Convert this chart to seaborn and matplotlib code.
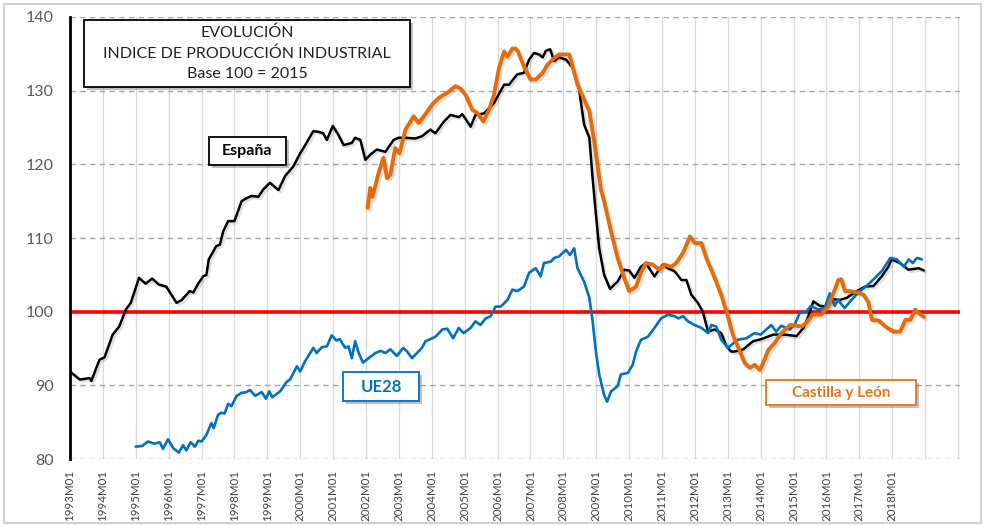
import matplotlib
matplotlib.use('Agg')
import matplotlib.pyplot as plt
import matplotlib.patheffects as pe
from matplotlib.patches import Rectangle
from matplotlib.ticker import MultipleLocator
import seaborn as sns
import pandas as pd

# Datos (fecha en anos decimales, indice base 2015=100)
esp_t = [1993.0, 1993.3, 1993.6, 1993.65, 1993.9, 1994.05, 1994.3, 1994.5, 1994.7, 1994.85,
         1995.1, 1995.3, 1995.5, 1995.7, 1995.93, 1996.24, 1996.4, 1996.64, 1996.75, 1996.9,
         1997.05, 1997.15, 1997.22, 1997.45, 1997.56, 1997.66, 1997.81, 1998.0, 1998.22, 1998.37,
         1998.52, 1998.73, 1998.88, 1999.08, 1999.34, 1999.54, 1999.79, 2000.0, 2000.1, 2000.4,
         2000.56, 2000.7, 2000.81, 2000.99, 2001.16, 2001.32, 2001.57, 2001.67, 2001.83, 2001.98,
         2002.13, 2002.33, 2002.59, 2002.84, 2002.99, 2003.2, 2003.5, 2003.7, 2003.96, 2004.11,
         2004.37, 2004.57, 2004.82, 2004.93, 2005.18, 2005.33, 2005.59, 2005.89, 2006.2, 2006.35,
         2006.6, 2006.8, 2006.96, 2007.11, 2007.26, 2007.37, 2007.47, 2007.6, 2007.72, 2007.87,
         2008.08, 2008.28, 2008.48, 2008.63, 2008.79, 2008.89, 2008.99, 2009.09, 2009.24, 2009.42,
         2009.65, 2009.85, 2010.0, 2010.16, 2010.36, 2010.51, 2010.77, 2011.02, 2011.18, 2011.38,
         2011.59, 2011.74, 2011.89, 2012.09, 2012.24, 2012.4, 2012.6, 2012.8, 2012.96, 2013.1,
         2013.21, 2013.47, 2013.77, 2014.03, 2014.38, 2014.73, 2015.09, 2015.3, 2015.45, 2015.6,
         2015.8, 2016.0, 2016.21, 2016.41, 2016.62, 2016.92, 2017.17, 2017.43, 2017.68, 2017.88,
         2017.98, 2018.24, 2018.49, 2018.8, 2018.96]
esp_v = [91.9, 90.8, 91.0, 90.6, 93.5, 93.8, 96.9, 98.0, 100.3, 101.2,
         104.6, 103.8, 104.5, 103.7, 103.4, 101.2, 101.6, 102.8, 102.6, 103.8,
         104.8, 105.0, 107.1, 108.9, 109.1, 110.9, 112.3, 112.3, 115.0, 115.4,
         115.7, 115.6, 116.6, 117.5, 116.5, 118.4, 119.7, 121.5, 122.2, 124.5,
         124.4, 124.2, 123.3, 125.2, 124.0, 122.6, 122.9, 123.6, 123.3, 120.6,
         121.3, 122.0, 121.7, 123.3, 123.6, 123.6, 123.5, 123.8, 124.7, 124.2,
         125.8, 126.7, 126.4, 126.8, 125.1, 126.7, 126.9, 128.3, 130.8, 130.8,
         132.2, 132.4, 134.2, 135.1, 134.9, 134.5, 135.4, 135.6, 134.0, 134.5,
         134.2, 133.1, 130.1, 125.4, 123.6, 118.1, 113.2, 108.6, 105.0, 103.1,
         104.1, 105.7, 105.6, 104.6, 106.1, 106.6, 104.8, 106.4, 105.9, 105.5,
         104.3, 104.3, 102.3, 101.2, 100.0, 97.3, 97.6, 97.1, 95.3, 94.6,
         94.6, 94.9, 96.0, 96.3, 96.9, 96.9, 96.7, 97.8, 99.4, 101.4,
         100.8, 100.7, 101.7, 101.6, 101.9, 102.8, 103.4, 103.5, 104.8, 106.1,
         107.1, 106.6, 105.7, 105.9, 105.6]

ue_t = [1995.0, 1995.2, 1995.37, 1995.57, 1995.73, 1995.83, 1995.98, 1996.14, 1996.31, 1996.44,
        1996.54, 1996.67, 1996.8, 1996.9, 1997.0, 1997.15, 1997.3, 1997.37, 1997.5, 1997.6,
        1997.7, 1997.81, 1997.91, 1998.07, 1998.22, 1998.37, 1998.47, 1998.63, 1998.83, 1998.96,
        1999.06, 1999.15, 1999.39, 1999.59, 1999.69, 1999.9, 2000.0, 2000.15, 2000.4, 2000.5,
        2000.66, 2000.81, 2000.96, 2001.1, 2001.2, 2001.37, 2001.47, 2001.57, 2001.67, 2001.78,
        2001.91, 2002.08, 2002.29, 2002.44, 2002.59, 2002.74, 2002.94, 2003.13, 2003.25, 2003.4,
        2003.55, 2003.7, 2003.81, 2003.96, 2004.11, 2004.32, 2004.47, 2004.65, 2004.82, 2004.97,
        2005.18, 2005.33, 2005.48, 2005.64, 2005.79, 2005.94, 2006.1, 2006.3, 2006.45, 2006.6,
        2006.8, 2006.96, 2007.16, 2007.31, 2007.41, 2007.62, 2007.72, 2007.87, 2008.08, 2008.2,
        2008.33, 2008.43, 2008.63, 2008.79, 2008.89, 2008.99, 2009.09, 2009.24, 2009.33, 2009.45,
        2009.65, 2009.75, 2009.96, 2010.11, 2010.21, 2010.36, 2010.57, 2010.77, 2010.97, 2011.18,
        2011.38, 2011.5, 2011.64, 2011.79, 2011.99, 2012.2, 2012.4, 2012.5, 2012.65, 2012.8,
        2013.0, 2013.3, 2013.56, 2013.81, 2014.0, 2014.32, 2014.47, 2014.62, 2014.88, 2015.03,
        2015.18, 2015.38, 2015.53, 2015.74, 2015.94, 2016.1, 2016.25, 2016.35, 2016.55, 2016.76,
        2017.01, 2017.22, 2017.43, 2017.68, 2017.94, 2018.14, 2018.35, 2018.5, 2018.62, 2018.75,
        2018.9]
ue_v = [81.7, 81.8, 82.4, 82.1, 82.3, 81.4, 82.7, 81.5, 80.9, 81.9,
        81.2, 82.3, 81.7, 82.5, 82.4, 83.3, 84.9, 84.2, 86.0, 86.3,
        86.2, 87.5, 87.2, 88.6, 89.0, 89.1, 89.4, 88.6, 89.1, 88.2,
        89.2, 88.4, 89.2, 90.5, 90.8, 92.6, 91.9, 93.3, 95.1, 94.4,
        95.2, 95.3, 96.8, 96.1, 96.3, 95.1, 95.3, 93.7, 96.0, 94.4,
        93.1, 93.7, 94.4, 94.7, 94.4, 94.9, 94.0, 95.1, 94.6, 93.7,
        94.4, 95.1, 96.0, 96.3, 96.6, 97.6, 97.7, 96.4, 97.8, 97.1,
        97.8, 98.7, 98.2, 99.1, 99.4, 100.7, 100.7, 101.6, 103.0, 102.8,
        103.4, 105.3, 105.9, 104.8, 106.6, 106.8, 107.3, 107.5, 108.4, 107.7,
        108.6, 105.9, 104.1, 101.9, 98.7, 94.6, 91.5, 88.7, 87.8, 89.2,
        89.9, 91.5, 91.7, 92.8, 94.6, 96.2, 96.6, 97.8, 99.1, 99.6,
        99.4, 99.1, 99.4, 98.7, 98.2, 97.8, 97.1, 98.2, 98.0, 96.2,
        95.1, 96.2, 96.4, 97.1, 96.9, 98.2, 97.3, 98.1, 97.6, 98.2,
        99.8, 100.0, 100.8, 100.3, 100.5, 102.5, 100.8, 101.6, 100.5, 101.6,
        102.8, 103.5, 104.4, 105.5, 107.3, 107.1, 106.1, 107.1, 106.6, 107.3,
        107.1]

cyl_t = [2002.05, 2002.13, 2002.2, 2002.37, 2002.53, 2002.64, 2002.74, 2002.89, 2003.02, 2003.2,
         2003.45, 2003.6, 2003.76, 2004.01, 2004.21, 2004.47, 2004.72, 2004.87, 2005.03, 2005.23,
         2005.38, 2005.57, 2005.74, 2005.89, 2006.04, 2006.2, 2006.3, 2006.45, 2006.55, 2006.62,
         2006.8, 2007.0, 2007.16, 2007.37, 2007.52, 2007.67, 2007.87, 2008.18, 2008.28, 2008.43,
         2008.59, 2008.79, 2008.94, 2009.14, 2009.24, 2009.45, 2009.65, 2009.85, 2010.0, 2010.21,
         2010.36, 2010.51, 2010.72, 2010.92, 2011.07, 2011.28, 2011.43, 2011.64, 2011.85, 2012.0,
         2012.2, 2012.36, 2012.6, 2012.8, 2012.98, 2013.16, 2013.37, 2013.52, 2013.67, 2013.82,
         2013.97, 2014.05, 2014.23, 2014.43, 2014.63, 2014.89, 2015.09, 2015.25, 2015.38, 2015.59,
         2015.84, 2016.05, 2016.21, 2016.36, 2016.45, 2016.56, 2016.7, 2016.97, 2017.13, 2017.28,
         2017.38, 2017.59, 2017.79, 2018.04, 2018.24, 2018.4, 2018.55, 2018.7, 2018.8, 2018.88,
         2018.96]
cyl_v = [114.1, 116.8, 115.6, 118.6, 120.9, 118.1, 118.6, 122.2, 121.5, 124.7,
         126.5, 125.6, 126.5, 128.1, 129.0, 129.7, 130.6, 130.3, 129.4, 127.4,
         127.0, 125.8, 127.4, 129.4, 133.0, 135.3, 134.6, 135.7, 135.7, 135.3,
         133.3, 131.5, 131.5, 132.4, 133.5, 134.2, 134.9, 134.9, 133.3, 130.8,
         129.2, 127.2, 123.1, 116.6, 115.0, 110.9, 107.3, 104.6, 102.8, 103.4,
         105.3, 106.6, 106.4, 105.7, 106.4, 106.1, 106.6, 108.0, 110.2, 109.3,
         109.3, 107.1, 104.6, 102.3, 99.7, 96.8, 94.6, 93.0, 92.4, 92.8,
         92.1, 92.8, 94.8, 95.8, 97.1, 98.2, 98.1, 98.0, 98.5, 99.6,
         99.6, 100.7, 102.5, 104.3, 104.4, 102.8, 102.8, 102.6, 102.3, 101.2,
         98.9, 98.8, 98.0, 97.3, 97.3, 98.9, 98.9, 100.3, 99.8, 99.6,
         99.3]

year_labels = [f"{y}M01" for y in range(1993, 2019)]

esp = pd.DataFrame({'t': esp_t, 'v': esp_v})
ue = pd.DataFrame({'t': ue_t, 'v': ue_v})
cyl = pd.DataFrame({'t': cyl_t, 'v': cyl_v})

sns.set_style('white')
plt.rcParams['font.family'] = ['Lato', 'DejaVu Sans']

W, H = 985, 526
fig = plt.figure(figsize=(W / 100, H / 100), dpi=100)
ax = fig.add_axes([0.071, 0.127, 0.904, 0.841])

black = '#000000'
blue = '#0070C0'
orange = '#E46C0A'
shadow = [pe.SimpleLineShadow(offset=(1.5, -1.5), alpha=0.12), pe.Normal()]

ax.axhline(100, color='#FF0000', lw=2.6, zorder=2)
sns.lineplot(data=esp, x='t', y='v', color=black, lw=1.8, estimator=None, ax=ax, zorder=3,
             path_effects=shadow)
sns.lineplot(data=ue, x='t', y='v', color=blue, lw=1.9, estimator=None, ax=ax, zorder=4)
sns.lineplot(data=cyl, x='t', y='v', color=orange, lw=2.8, estimator=None, ax=ax, zorder=5,
             path_effects=shadow)

ax.set_xlim(1993.0, 2020.07)
ax.set_ylim(80, 140)
ax.set_xlabel('')
ax.set_ylabel('')

# rejilla
for yr in range(1994, 2021):
    ax.axvline(yr, color='#D9D9D9', lw=1.0, zorder=1)
for yv in range(80, 141, 10):
    if yv != 100:
        ax.axhline(yv, color='#A6A6A6', lw=1.0, ls=(0, (4, 3)), zorder=1)

ax.set_xticks(range(1993, 2019))
ax.set_xticklabels(year_labels, rotation=90, fontsize=8.3, color='#404040')
ax.tick_params(axis='x', length=0, pad=8)

ax.yaxis.set_major_locator(MultipleLocator(10))
ax.yaxis.set_minor_locator(MultipleLocator(2))
ax.tick_params(axis='y', which='major', direction='inout', length=11, width=1.6,
               color='black', labelsize=11.5, labelcolor='#595959', pad=6)
ax.tick_params(axis='y', which='minor', direction='inout', length=6, width=1.4, color='black')

for s in ['top', 'right', 'bottom']:
    ax.spines[s].set_visible(False)
ax.spines['left'].set_color('black')
ax.spines['left'].set_linewidth(2.0)


def caja(x0, y0, x1, y1, ec):
    # caja en pixeles de la figura (origen arriba a la izquierda)
    r = Rectangle((x0 / W, 1 - y1 / H), (x1 - x0) / W, (y1 - y0) / H, transform=fig.transFigure,
                  fc='white', ec=ec, lw=1.3, zorder=10,
                  path_effects=[pe.withSimplePatchShadow(offset=(2.5, -2.5), alpha=0.35)])
    fig.patches.append(r)
    return ((x0 + x1) / 2 / W, 1 - (y0 + y1) / 2 / H)


cx, cy = caja(84, 20, 410, 87, 'black')
fig.text(cx, cy, 'EVOLUCIÓN\nINDICE DE PRODUCCIÓN INDUSTRIAL\nBase 100 = 2015', ha='center',
         va='center', fontsize=11.5, color='#202020', linespacing=1.55, zorder=11)

cx, cy = caja(209, 137, 286, 165, 'black')
fig.text(cx, cy, 'España', ha='center', va='center', fontsize=11.5, fontweight='bold',
         color='black', zorder=11)

cx, cy = caja(343, 372, 419, 401, blue)
fig.text(cx, cy, 'UE28', ha='center', va='center', fontsize=12, fontweight='bold',
         color=blue, zorder=11)

cx, cy = caja(766, 380, 916, 405, '#E8731A')
fig.text(cx, cy, 'Castilla y León', ha='center', va='center', fontsize=11, fontweight='bold',
         color='#E8731A', zorder=11)

fig.patches.append(Rectangle((0.004, 0.006), 0.992, 0.986, transform=fig.transFigure,
                             fill=False, ec='#D0D0D0', lw=1.5))

fig.savefig('out.png', dpi=100)
